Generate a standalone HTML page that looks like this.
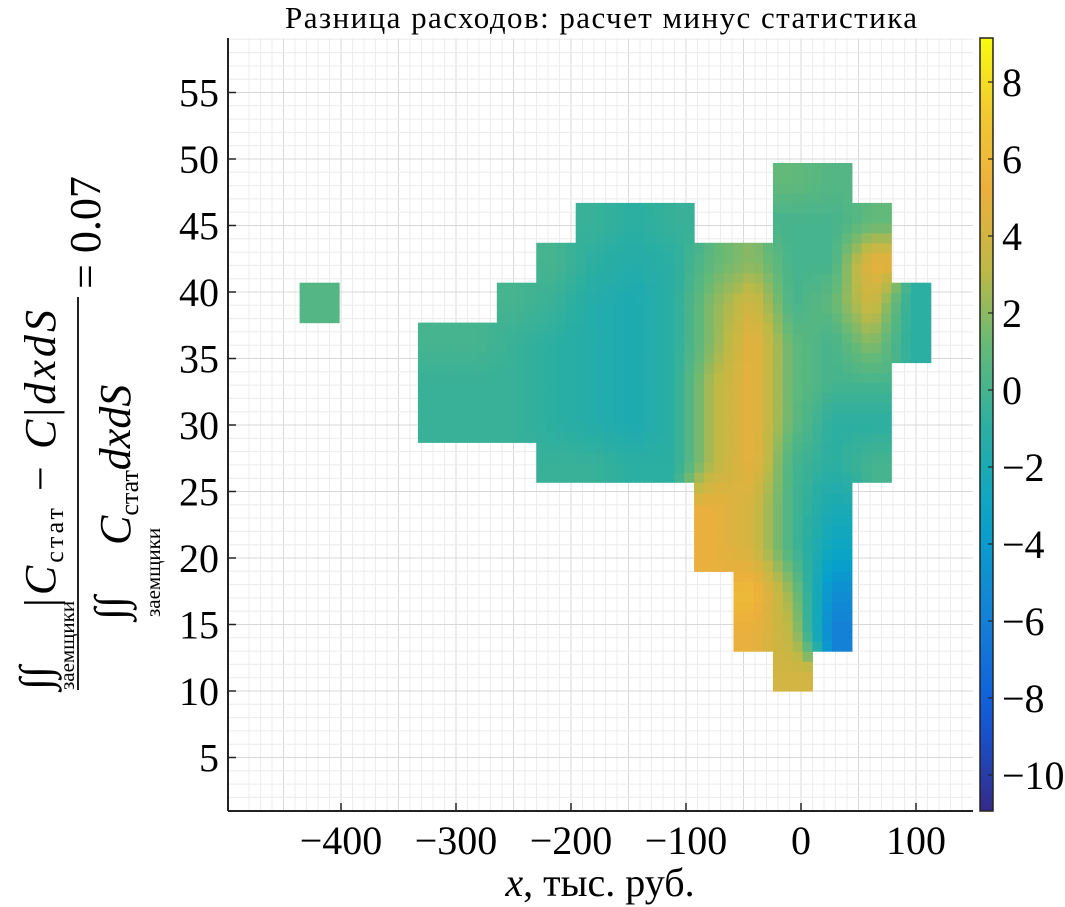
<!DOCTYPE html>
<html><head><meta charset="utf-8"><style>
body{margin:0;background:#fff;}
svg{display:block;font-family:"Liberation Serif",serif;}
</style></head><body>
<svg id="chart" width="1065" height="907" viewBox="0 0 1065 907">
<text x="601" y="28" font-size="31" text-anchor="middle" textLength="632">Разница расходов: расчет минус статистика</text>
<g id="grid"></g>
<g id="cells"></g>
<g id="axes"></g>
<g id="cbar"></g>
<g transform="translate(0,907) rotate(-90)">
  <text x="217" y="50" font-size="44">∫∫</text>
  <text x="300" y="55" font-size="44" textLength="297" lengthAdjust="spacing">|<tspan font-style="italic">C</tspan><tspan font-size="26" dy="8">стат</tspan><tspan dy="-8"> − </tspan><tspan font-style="italic">C</tspan>|<tspan font-style="italic">dxdS</tspan></text>
  <text x="217" y="74" font-size="21">заемщики</text>
  <line x1="217" y1="78" x2="610" y2="78" stroke="#222" stroke-width="2"/>
  <text x="287" y="125" font-size="44">∫∫</text>
  <text x="362" y="130" font-size="44"><tspan font-style="italic">C</tspan><tspan font-size="26" dy="8">стат</tspan><tspan dy="-8" font-style="italic">dxdS</tspan></text>
  <text x="290" y="160" font-size="21">заемщики</text>
  <text x="618" y="100" font-size="44">= 0.07</text>
</g>
<text x="600" y="896" font-size="40" text-anchor="middle"><tspan font-style="italic">x</tspan>, тыс. руб.</text>
</svg>
<script>
// data
const xTicks=[-400,-300,-200,-100,0,100];
const yTicks=[5,10,15,20,25,30,35,40,45,50,55];
const cTicks=[8,6,4,2,0,-2,-4,-6,-8,-10];
const colX0=-436, colStep=34.3;
const rowEdges=[10,13,16,19,22.4,25.7,28.7,31.7,34.7,37.7,40.7,43.7,46.7,49.7];
const N=null;
// rows bottom->top, 16 columns
const values=[
[N,N,N,N,N,N,N,N,N,N,N,N,4,N,N,N],
[N,N,N,N,N,N,N,N,N,N,N,5,3,-6,N,N],
[N,N,N,N,N,N,N,N,N,N,N,6,2,-5,N,N],
[N,N,N,N,N,N,N,N,N,N,5,4,0,-3,N,N],
[N,N,N,N,N,N,N,N,N,N,5,4,0,-2,N,N],
[N,N,N,N,N,N,-0.5,-0.5,-1,-1,3,5,0,-1,0,N],
[N,N,N,-0.5,-0.5,-0.5,-1,-1.5,-2,-1,3,5,1,-1,-1,N],
[N,N,N,-0.5,-0.5,-0.5,-1,-1.5,-2,-1,3,5,1,0,0,N],
[N,N,N,0,0,-0.5,-1,-1.5,-2,-1,2,5,1,0,2,-1],
[0.5,N,N,N,N,0,-0.5,-1.5,-2,-1,2,4,0,1,4,-1],
[N,N,N,N,N,N,0,-1,-1.5,-1,1,2,0,0,5,N],
[N,N,N,N,N,N,N,-0.5,-1,-0.5,N,N,0,0,1,N],
[N,N,N,N,N,N,N,N,N,N,N,N,1,0.5,N,N]
];
const cMin=-10.9,cMax=9.1;
// layout
const L=228,R=973,T=38,B=811;
const sx=v=>801+v*1.15;
const sy=v=>691-(v-10)*13.3;
const cy=v=>82-(v-8)*38.5;
const NS='http://www.w3.org/2000/svg';
function mk(tag,attrs,parent){const e=document.createElementNS(NS,tag);for(const k in attrs)e.setAttribute(k,attrs[k]);parent.appendChild(e);return e;}
const stops=[[0,[53,42,135]],[0.125,[15,92,221]],[0.25,[20,129,214]],[0.375,[6,164,202]],[0.5,[45,175,160]],[0.6,[100,185,120]],[0.7,[190,185,70]],[0.8,[235,175,60]],[0.9,[240,200,50]],[1,[249,251,14]]];
function color(v){let t=(v-cMin)/(cMax-cMin);t=Math.max(0,Math.min(1,t));
for(let i=1;i<stops.length;i++){if(t<=stops[i][0]){const a=stops[i-1],b=stops[i],f=(t-a[0])/(b[0]-a[0]);
const c=a[1].map((x,j)=>Math.round(x+(b[1][j]-x)*f));return `rgb(${c})`;}}return 'rgb(249,251,14)';}
// grid
const g=document.getElementById('grid');
for(let v=-480;v<=140;v+=10){const x=sx(v);if(x<L||x>R)continue;
const gl=mk('line',{x1:x,y1:T,x2:x,y2:B,stroke:v%50===0?'#d8d8d8':'#ececec','stroke-width':1},g);
}
for(let v=1;v<=59;v+=1){const y=sy(v);if(y<T||y>B)continue;
const gl=mk('line',{x1:L,y1:y,x2:R,y2:y,stroke:v%5===0?'#d8d8d8':'#ececec','stroke-width':1},g);
}
// cells with bilinear smoothing
const cg=document.getElementById('cells');const SUB=4;const NC=values[0].length;
function val(r,c){return (r>=0&&r<values.length&&c>=0&&c<NC)?values[r][c]:null;}
for(let r=0;r<values.length;r++)for(let c=0;c<NC;c++){if(values[r][c]===null)continue;
const rs=(rowEdges[r+1]-rowEdges[r]);
for(let i=0;i<SUB;i++)for(let j=0;j<SUB;j++){
const fx=(j+0.5)/SUB-0.5,fy=(i+0.5)/SUB-0.5;
const dc=fx<0?-1:1,dr=fy<0?-1:1;const wx=Math.abs(fx),wy=Math.abs(fy);
let s=0,w=0;const add=(rr,cc,ww)=>{const v=val(rr,cc);if(v!==null&&ww>0){s+=v*ww;w+=ww;}};
add(r,c,(1-wx)*(1-wy));add(r,c+dc,wx*(1-wy));add(r+dr,c,(1-wx)*wy);add(r+dr,c+dc,wx*wy);
const v=s/w;
const x0=colX0+c*colStep+j*colStep/SUB,x1=x0+colStep/SUB;
const y0=rowEdges[r]+i*rs/SUB,y1=y0+rs/SUB;
const px=sx(x0),py=sy(y1);
const rc=mk('rect',{x:px.toFixed(2),y:py.toFixed(2),width:(sx(x1)-px+0.6).toFixed(2),height:(sy(y0)-py+0.6).toFixed(2),fill:color(v)},cg);
}}
// axes
const ax=document.getElementById('axes');
mk('line',{x1:L,y1:T,x2:L,y2:B,stroke:'#222','stroke-width':2},ax);
mk('line',{x1:L,y1:B,x2:R,y2:B,stroke:'#222','stroke-width':2},ax);
xTicks.forEach(v=>{const x=sx(v);mk('line',{x1:x,y1:B,x2:x,y2:B-8,stroke:'#222','stroke-width':1.5},ax);
const t=mk('text',{x:x,y:854,'font-size':40,'text-anchor':'middle'},ax);t.textContent=v<0?'−'+(-v):v;
});
yTicks.forEach(v=>{const y=sy(v);mk('line',{x1:L,y1:y,x2:L+8,y2:y,stroke:'#222','stroke-width':1.5},ax);
const t=mk('text',{x:219,y:y+14,'font-size':40,'text-anchor':'end'},ax);t.textContent=v;
});
// colorbar
const cb=document.getElementById('cbar');
const defs=mk('defs',{},cb);const lg=mk('linearGradient',{id:'cg',x1:0,y1:1,x2:0,y2:0},defs);
for(let k=0;k<=20;k++){const v=cMin+(cMax-cMin)*k/20;mk('stop',{offset:k/20,'stop-color':color(v)},lg);}
const cr=mk('rect',{x:980,y:T,width:13,height:B-T,fill:'url(#cg)',stroke:'#222','stroke-width':1.5},cb);

cTicks.forEach(v=>{const y=cy(v);mk('line',{x1:993,y1:y,x2:988,y2:y,stroke:'#222','stroke-width':1.2},cb);
const t=mk('text',{x:1002,y:y+14,'font-size':40},cb);t.textContent=v<0?'−'+(-v):v;
});
</script>
</body></html>
